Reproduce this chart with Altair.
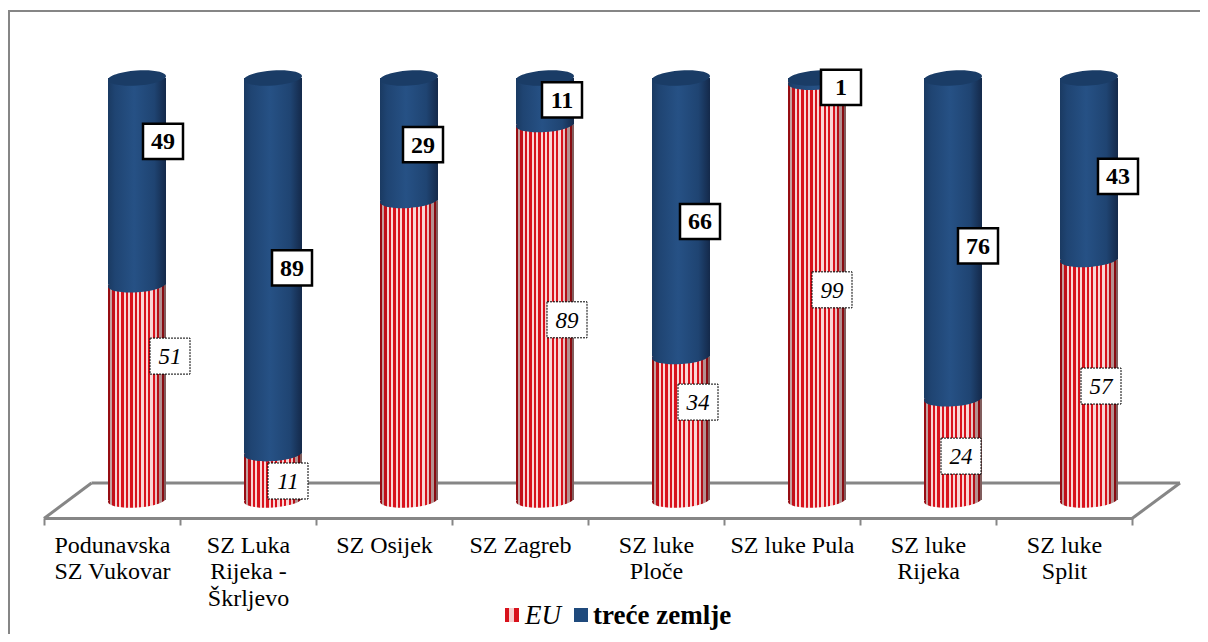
import altair as alt
import pandas as pd

categories = ["Podunavska|SZ Vukovar", "SZ Luka|Rijeka -|Škrljevo", "SZ Osijek", "SZ Zagreb",
              "SZ luke|Ploče", "SZ luke Pula", "SZ luke|Rijeka", "SZ luke|Split"]
eu = [51, 11, 71, 89, 34, 99, 24, 57]
third = [49, 89, 29, 11, 66, 1, 76, 43]
third_label_pos = [85, 55, 84.2, 94.8, 66, 97.8, 60.2, 76.7]
third_label_dx = [119, 112, 107, 110, 112, 117, 118, 122]
eu_labelled = [True, True, False, True, True, True, True, True]
eu_label_pos = [34.1, 4.5, 0, 42.7, 23.2, 49.8, 10.4, 27]
eu_label_dx = [126, 108, 0, 115, 110, 108, 101, 105]

FONT = "Liberation Serif"
GRAY = "#868686"
BAR_W = 58
BAR_DX = 25


def mix(a, b, t):
    ca = [int(a[i:i + 2], 16) for i in (1, 3, 5)]
    cb = [int(b[i:i + 2], 16) for i in (1, 3, 5)]
    return "#" + "".join(f"{round(x + (y - x) * t):02x}" for x, y in zip(ca, cb))


def shade(c, pos):
    d = abs(pos - 0.45) / 0.55
    k = max(0.0, (d - 0.6) / 0.4)
    return mix(c, "#2a0505", 0.7 * k)


def stripes(n):
    stops = []
    for i in range(n):
        a, m, b = i / n, (i + 0.5) / n, (i + 1) / n
        r = shade("#d8121c", a)
        p = shade("#f9d6d6", m)
        stops += [alt.GradientStop(offset=a, color=r), alt.GradientStop(offset=m, color=r),
                  alt.GradientStop(offset=m, color=p), alt.GradientStop(offset=b, color=p)]
    return alt.LinearGradient(gradient="linear", x1=0, x2=1, y1=0, y2=0, stops=stops)


red_fill = stripes(13)
legend_red = alt.LinearGradient(gradient="linear", x1=0, x2=1, y1=0, y2=0, stops=[
    alt.GradientStop(offset=o, color=c) for o, c in [
        (0, "#d8121c"), (0.28, "#d8121c"), (0.28, "#f6d0d0"), (0.64, "#f6d0d0"),
        (0.64, "#d8121c"), (1, "#d8121c")]])
blue_fill = alt.LinearGradient(gradient="linear", x1=0, x2=1, y1=0, y2=0, stops=[
    alt.GradientStop(offset=0, color="#1a3a62"), alt.GradientStop(offset=0.12, color="#1f4472"),
    alt.GradientStop(offset=0.45, color="#265185"), alt.GradientStop(offset=0.8, color="#1f4472"),
    alt.GradientStop(offset=1, color="#14294a")])

ELLIPSE = "M-1,0.07 A1,0.26 -4 1 1 1,-0.07 A1,0.26 -4 1 1 -1,0.07 Z"
BOX_BLUE = "M-1,-0.88H1V0.88H-1Z"
BOX_RED = "M-1,-0.9H1V0.9H-1Z"

df = pd.DataFrame({"cat": categories, "eu": eu, "third": third, "full": [a + b for a, b in zip(eu, third)],
                   "zero": [0] * len(eu), "tpos": third_label_pos, "tdx": third_label_dx,
                   "epos": eu_label_pos, "edx": eu_label_dx, "lab": eu_labelled})
df_eu = df[df["lab"]]
one = pd.DataFrame({"a": [0]})

y_scale = alt.Scale(domain=[0, 100], range=[489, 67])
x_enc = alt.X("cat:N", sort=categories, title=None, scale=alt.Scale(paddingInner=0, paddingOuter=0),
              axis=alt.Axis(labelExpr="split(datum.label, '|')", labelAngle=0, labelFont=FONT, labelFontSize=24,
                            labelColor="#000000", labelLineHeight=26.5, labelPadding=8, labelLimit=0,
                            labelBaseline="top", labelAlign="center", tickBand="extent", tickColor=GRAY, tickWidth=2,
                            tickSize=7, domainColor=GRAY, domainWidth=3, grid=False))
x_plain = alt.X("cat:N", sort=categories, title=None)


def y(field):
    return alt.Y(f"{field}:Q", scale=y_scale, axis=None, title=None)


def rule(x1, y1, x2, y2, w=3):
    return alt.Chart(one).mark_rule(color=GRAY, strokeWidth=w).encode(
        x=alt.value(x1), y=alt.value(y1), x2=alt.value(x2), y2=alt.value(y2))


red_bar = alt.Chart(df).mark_bar(fill=red_fill, width=BAR_W, xOffset=BAR_DX).encode(
    x=x_enc, y=y("zero"), y2="eu:Q")
red_base = alt.Chart(df).mark_point(shape=ELLIPSE, fill=red_fill, filled=True, stroke=None, opacity=1,
                                    size=BAR_W ** 2, xOffset=BAR_DX).encode(x=x_plain, y=y("zero"))
blue_bar = alt.Chart(df).mark_bar(fill=blue_fill, width=BAR_W, xOffset=BAR_DX).encode(
    x=x_plain, y=y("eu"), y2="full:Q")
blue_base = alt.Chart(df).mark_point(shape=ELLIPSE, fill=blue_fill, filled=True, stroke=None, opacity=1,
                                     size=BAR_W ** 2, xOffset=BAR_DX).encode(x=x_plain, y=y("eu"))
blue_top = alt.Chart(df).mark_point(shape=ELLIPSE, fill="#1a3c66", filled=True, stroke=None, opacity=1,
                                    size=BAR_W ** 2, xOffset=BAR_DX).encode(x=x_plain, y=y("full"))

box_t = alt.Chart(df).mark_point(shape=BOX_BLUE, fill="#ffffff", filled=True, stroke="#000000", strokeWidth=2.5,
                                 opacity=1, size=40 ** 2).encode(
    x=x_plain, xOffset=alt.XOffset("tdx:Q", scale=None), y=y("tpos"))
txt_t = alt.Chart(df).mark_text(font=FONT, fontSize=24, fontWeight="bold", color="#000000", baseline="middle",
                                dy=1).encode(
    x=x_plain, xOffset=alt.XOffset("tdx:Q", scale=None), y=y("tpos"), text="third:Q")
box_e = alt.Chart(df_eu).mark_point(shape=BOX_RED, fill="#ffffff", filled=True, stroke="#000000", strokeWidth=1,
                                    strokeDash=[2, 1], opacity=1, size=40 ** 2).encode(
    x=x_plain, xOffset=alt.XOffset("edx:Q", scale=None), y=y("epos"))
txt_e = alt.Chart(df_eu).mark_text(font=FONT, fontSize=23, fontStyle="italic", color="#000000", baseline="middle",
                                   dy=1).encode(
    x=x_plain, xOffset=alt.XOffset("edx:Q", scale=None), y=y("epos"), text="eu:Q")

SQUARE = "M-1,-1H1V1H-1Z"
leg_red = alt.Chart(one).mark_point(shape=SQUARE, fill=legend_red, filled=True, stroke=None, opacity=1,
                                    size=14 ** 2).encode(x=alt.value(468), y=alt.value(604))
leg_blue = alt.Chart(one).mark_point(shape=SQUARE, fill="#1f4a7c", filled=True, stroke=None, opacity=1,
                                     size=14 ** 2).encode(x=alt.value(537), y=alt.value(604))
leg_eu = alt.Chart(one).mark_text(font=FONT, fontSize=27, fontStyle="italic", color="#000000", align="left",
                                  baseline="alphabetic", text="EU").encode(x=alt.value(481), y=alt.value(613))
leg_th = alt.Chart(one).mark_text(font=FONT, fontSize=27, fontWeight="bold", color="#000000", align="left",
                                  baseline="alphabetic", text="treće zemlje").encode(x=alt.value(549), y=alt.value(613))

chart = alt.layer(
    rule(-35, 0, -35, 623, 2), rule(-36, 0, 1156, 0, 2),
    rule(0, 507.5, 47.5, 472), rule(47.5, 472, 1136, 472), rule(1088, 507.5, 1136, 472),
    red_bar, red_base, blue_bar, blue_base, blue_top,
    box_t, txt_t, box_e, txt_e,
    leg_red, leg_eu, leg_blue, leg_th,
).properties(
    width=1088, height=507,
    padding={"left": 36, "top": 3, "right": 68, "bottom": 116},
    autosize=alt.AutoSizeParams(type="none"),
    background="#ffffff",
).configure_view(stroke=None)

chart.save("out.html", embed_options={"renderer": "svg", "actions": False})
